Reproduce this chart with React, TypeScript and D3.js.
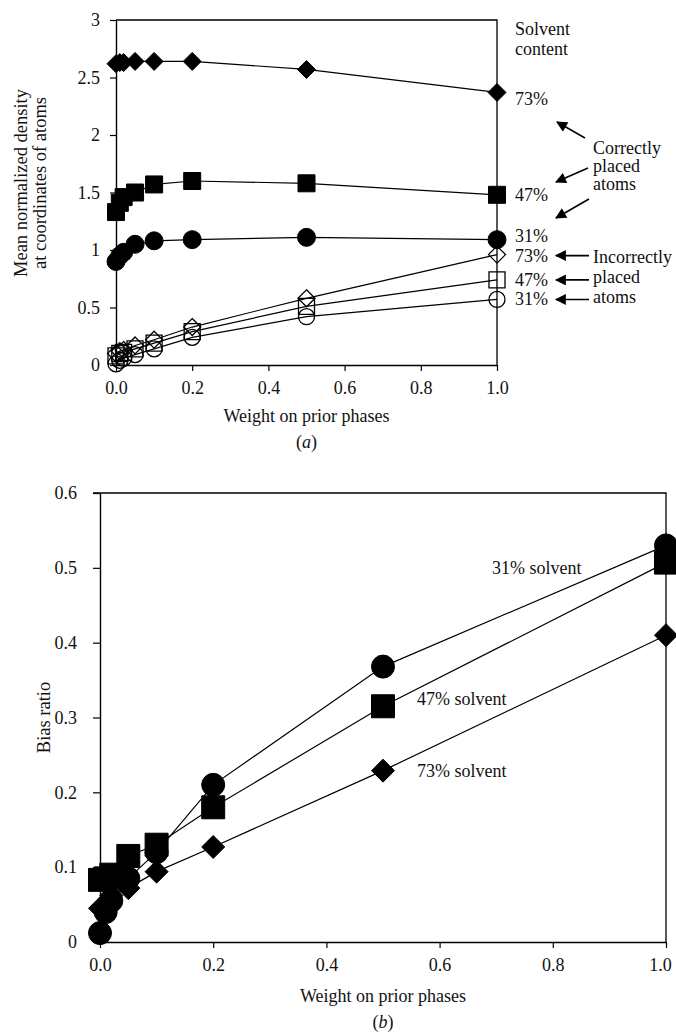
import React, { useEffect, useRef } from 'react';
import * as d3 from 'd3';

// weight on prior phases (same for every series)
const weights = [0, 0.01, 0.02, 0.05, 0.1, 0.2, 0.5, 1.0];

// (a) mean normalized density, correctly placed atoms
const correct73 = [2.62, 2.63, 2.63, 2.64, 2.64, 2.64, 2.57, 2.37];
const correct47 = [1.33, 1.41, 1.46, 1.5, 1.57, 1.6, 1.58, 1.48];
const correct31 = [0.9, 0.95, 0.98, 1.05, 1.08, 1.09, 1.11, 1.09];
// (a) incorrectly placed atoms
const incorrect73 = [0.1, 0.12, 0.13, 0.17, 0.22, 0.33, 0.58, 0.96];
const incorrect47 = [0.08, 0.1, 0.11, 0.14, 0.19, 0.29, 0.51, 0.74];
const incorrect31 = [0.01, 0.04, 0.06, 0.09, 0.14, 0.24, 0.42, 0.57];
const solventLabels = ['73%', '47%', '31%', '73%', '47%', '31%'];

// (b) bias ratio
const bias31 = [0.012, 0.04, 0.055, 0.085, 0.12, 0.21, 0.368, 0.53];
const bias47 = [0.083, 0.085, 0.09, 0.115, 0.13, 0.18, 0.315, 0.507];
const bias73 = [0.045, 0.05, 0.062, 0.072, 0.094, 0.127, 0.229, 0.41];

const xTicks = [0, 0.2, 0.4, 0.6, 0.8, 1.0];
const yTicksA = [0, 0.5, 1, 1.5, 2, 2.5, 3];
const yTicksB = [0, 0.1, 0.2, 0.3, 0.4, 0.5, 0.6];

const FONT = '"Liberation Serif", "DejaVu Serif", serif';

const diamondPath = (r) => `M0,${-r}L${r},0L0,${r}L${-r},0Z`;
const squarePath = (r) => `M${-r},${-r}H${r}V${r}H${-r}Z`;
const circlePath = (r) => `M${r},0A${r},${r} 0 1,1 ${-r},0A${r},${r} 0 1,1 ${r},0Z`;

function App() {
  const ref = useRef();

  useEffect(() => {
    const svg = d3.select(ref.current);
    svg.selectAll('*').remove();

    svg.append('defs')
      .append('marker')
      .attr('id', 'arrow')
      .attr('viewBox', '0 0 10 10')
      .attr('refX', 9)
      .attr('refY', 5)
      .attr('markerUnits', 'userSpaceOnUse')
      .attr('markerWidth', 13)
      .attr('markerHeight', 11)
      .attr('orient', 'auto')
      .append('path')
      .attr('d', 'M0,0L10,5L0,10Z')
      .attr('fill', '#000');

    const styleAxis = (g) => {
      g.attr('font-family', FONT);
      g.select('.domain').attr('stroke', '#000').attr('stroke-width', 1.4);
      g.selectAll('.tick line').attr('stroke', '#000').attr('stroke-width', 1.2);
      g.selectAll('.tick text')
        .attr('font-family', FONT)
        .style('font-family', FONT)
        .attr('font-size', 18)
        .attr('fill', '#111');
    };

    const drawSeries = (g, x, y, values) => {
      const pts = weights.map((w, i) => [x(w), y(values[i])]);
      g.append('path')
        .attr('d', d3.line()(pts))
        .attr('fill', 'none')
        .attr('stroke', '#000')
        .attr('stroke-width', 1.2);
      return pts;
    };

    const drawMarks = (g, pts, path, r, filled) => {
      g.selectAll(null)
        .data(pts)
        .enter()
        .append('path')
        .attr('transform', (d) => `translate(${d[0]},${d[1]})`)
        .attr('d', path(r))
        .attr('fill', filled ? '#000' : 'none')
        .attr('stroke', '#000')
        .attr('stroke-width', filled ? 1 : 1.3);
    };

    const txt = (g, x, y, s, anchor = 'start', size = 18) =>
      g.append('text')
        .attr('x', x)
        .attr('y', y)
        .attr('text-anchor', anchor)
        .style('font-family', FONT)
        .attr('font-size', size)
        .attr('fill', '#111')
        .text(s);

    // ---------- (a) ----------
    const xa = d3.scaleLinear().domain([0, 1]).range([116, 497]);
    const ya = d3.scaleLinear().domain([0, 3]).range([365, 20]);
    const ga = svg.append('g');

    ga.append('g')
      .attr('transform', 'translate(0,365)')
      .call(d3.axisBottom(xa).tickValues(xTicks).tickFormat(d3.format('.1f')).tickSize(6).tickPadding(10).tickSizeOuter(0))
      .call(styleAxis);
    ga.append('g')
      .attr('transform', 'translate(116,0)')
      .call(d3.axisLeft(ya).tickValues(yTicksA).tickFormat((d) => String(d)).tickSize(6).tickPadding(10).tickSizeOuter(0))
      .call(styleAxis);
    ga.append('path')
      .attr('d', `M${xa(0)},${ya(3)}H${xa(1)}V${ya(0)}`)
      .attr('fill', 'none')
      .attr('stroke', '#000')
      .attr('stroke-width', 1.3);

    const seriesA = [
      [correct73, diamondPath, 9, true],
      [correct47, squarePath, 8.5, true],
      [correct31, circlePath, 9, true],
      [incorrect73, diamondPath, 8.5, false],
      [incorrect47, squarePath, 8, false],
      [incorrect31, circlePath, 8, false],
    ];
    const ptsA = seriesA.map((s) => drawSeries(ga, xa, ya, s[0]));
    seriesA.forEach((s, i) => drawMarks(ga, ptsA[i], s[1], s[2], s[3]));

    txt(ga, 515, 35, 'Solvent');
    txt(ga, 515, 55, 'content');
    // label baselines, offset from the end point of each series
    const labelOffsets = [13, 6, 2, 7, 6, 6];
    seriesA.forEach((s, i) => {
      const vals = s[0];
      txt(ga, 515, ya(vals[vals.length - 1]) + labelOffsets[i], solventLabels[i]);
    });

    txt(ga, 593, 154, 'Correctly');
    txt(ga, 593, 172, 'placed');
    txt(ga, 593, 190, 'atoms');
    txt(ga, 593, 263, 'Incorrectly');
    txt(ga, 593, 283, 'placed');
    txt(ga, 593, 303, 'atoms');

    const arrows = [
      [585, 138, 557, 122],
      [588, 168, 556, 182],
      [589, 199, 556, 218],
      [589, ya(incorrect73[7]) + 1, 556, ya(incorrect73[7]) + 1],
      [589, ya(incorrect47[7]), 556, ya(incorrect47[7])],
      [589, ya(incorrect31[7]), 556, ya(incorrect31[7])],
    ];
    ga.selectAll(null)
      .data(arrows)
      .enter()
      .append('line')
      .attr('x1', (d) => d[0])
      .attr('y1', (d) => d[1])
      .attr('x2', (d) => d[2])
      .attr('y2', (d) => d[3])
      .attr('stroke', '#000')
      .attr('stroke-width', 1.6)
      .attr('marker-end', 'url(#arrow)');

    const yLabA = ga.append('text')
      .attr('transform', 'translate(0,183) rotate(-90)')
      .attr('text-anchor', 'middle')
      .style('font-family', FONT)
      .attr('font-size', 18.5)
      .attr('fill', '#111');
    yLabA.append('tspan').attr('x', 0).attr('y', 27).text('Mean normalized density');
    yLabA.append('tspan').attr('x', 0).attr('y', 46).text('at coordinates of atoms');

    txt(ga, (xa(0) + xa(1)) / 2, 422, 'Weight on prior phases', 'middle');
    const capA = txt(ga, (xa(0) + xa(1)) / 2, 448, '', 'middle');
    capA.append('tspan').text('(');
    capA.append('tspan').attr('font-style', 'italic').text('a');
    capA.append('tspan').text(')');

    // ---------- (b) ----------
    const xb = d3.scaleLinear().domain([0, 1]).range([100, 666]);
    const yb = d3.scaleLinear().domain([0, 0.6]).range([942, 493]);
    const gb = svg.append('g');

    const xAxisB = gb.append('g')
      .attr('transform', 'translate(0,942)')
      .call(d3.axisBottom(xb).tickValues(xTicks).tickFormat(d3.format('.1f')).tickSize(6).tickPadding(10).tickSizeOuter(0))
      .call(styleAxis);
    // last label sits at the page edge; nudge it in so it is not clipped
    xAxisB.selectAll('.tick text').filter((d) => d === 1).attr('dx', -6);

    gb.append('g')
      .attr('transform', 'translate(100,0)')
      .call(d3.axisLeft(yb).tickValues(yTicksB).tickFormat((d) => String(d)).tickSize(7).tickPadding(16).tickSizeOuter(0))
      .call(styleAxis);
    gb.append('path')
      .attr('d', `M${xb(0) - 7},${yb(0.6)}H${xb(1)}V${yb(0)}`)
      .attr('fill', 'none')
      .attr('stroke', '#000')
      .attr('stroke-width', 1.3);

    const seriesB = [
      [bias31, circlePath, 11.5],
      [bias47, squarePath, 11.5],
      [bias73, diamondPath, 11.5],
    ];
    const ptsB = seriesB.map((s) => drawSeries(gb, xb, yb, s[0]));
    seriesB.forEach((s, i) => drawMarks(gb, ptsB[i], s[1], s[2], true));

    txt(gb, 492, 574, '31% solvent');
    txt(gb, 417, 705, '47% solvent');
    txt(gb, 417, 777, '73% solvent');

    gb.append('text')
      .attr('transform', `translate(50,${(yb(0) + yb(0.6)) / 2}) rotate(-90)`)
      .attr('text-anchor', 'middle')
      .style('font-family', FONT)
      .attr('font-size', 18.5)
      .attr('fill', '#111')
      .text('Bias ratio');

    txt(gb, (xb(0) + xb(1)) / 2, 1002, 'Weight on prior phases', 'middle');
    const capB = txt(gb, (xb(0) + xb(1)) / 2, 1028, '', 'middle');
    capB.append('tspan').text('(');
    capB.append('tspan').attr('font-style', 'italic').text('b');
    capB.append('tspan').text(')');
  }, []);

  return (
    <svg
      ref={ref}
      width={676}
      height={1036}
      style={{ position: 'absolute', left: 0, top: 0, background: '#fff' }}
    />
  );
}

export default App;
